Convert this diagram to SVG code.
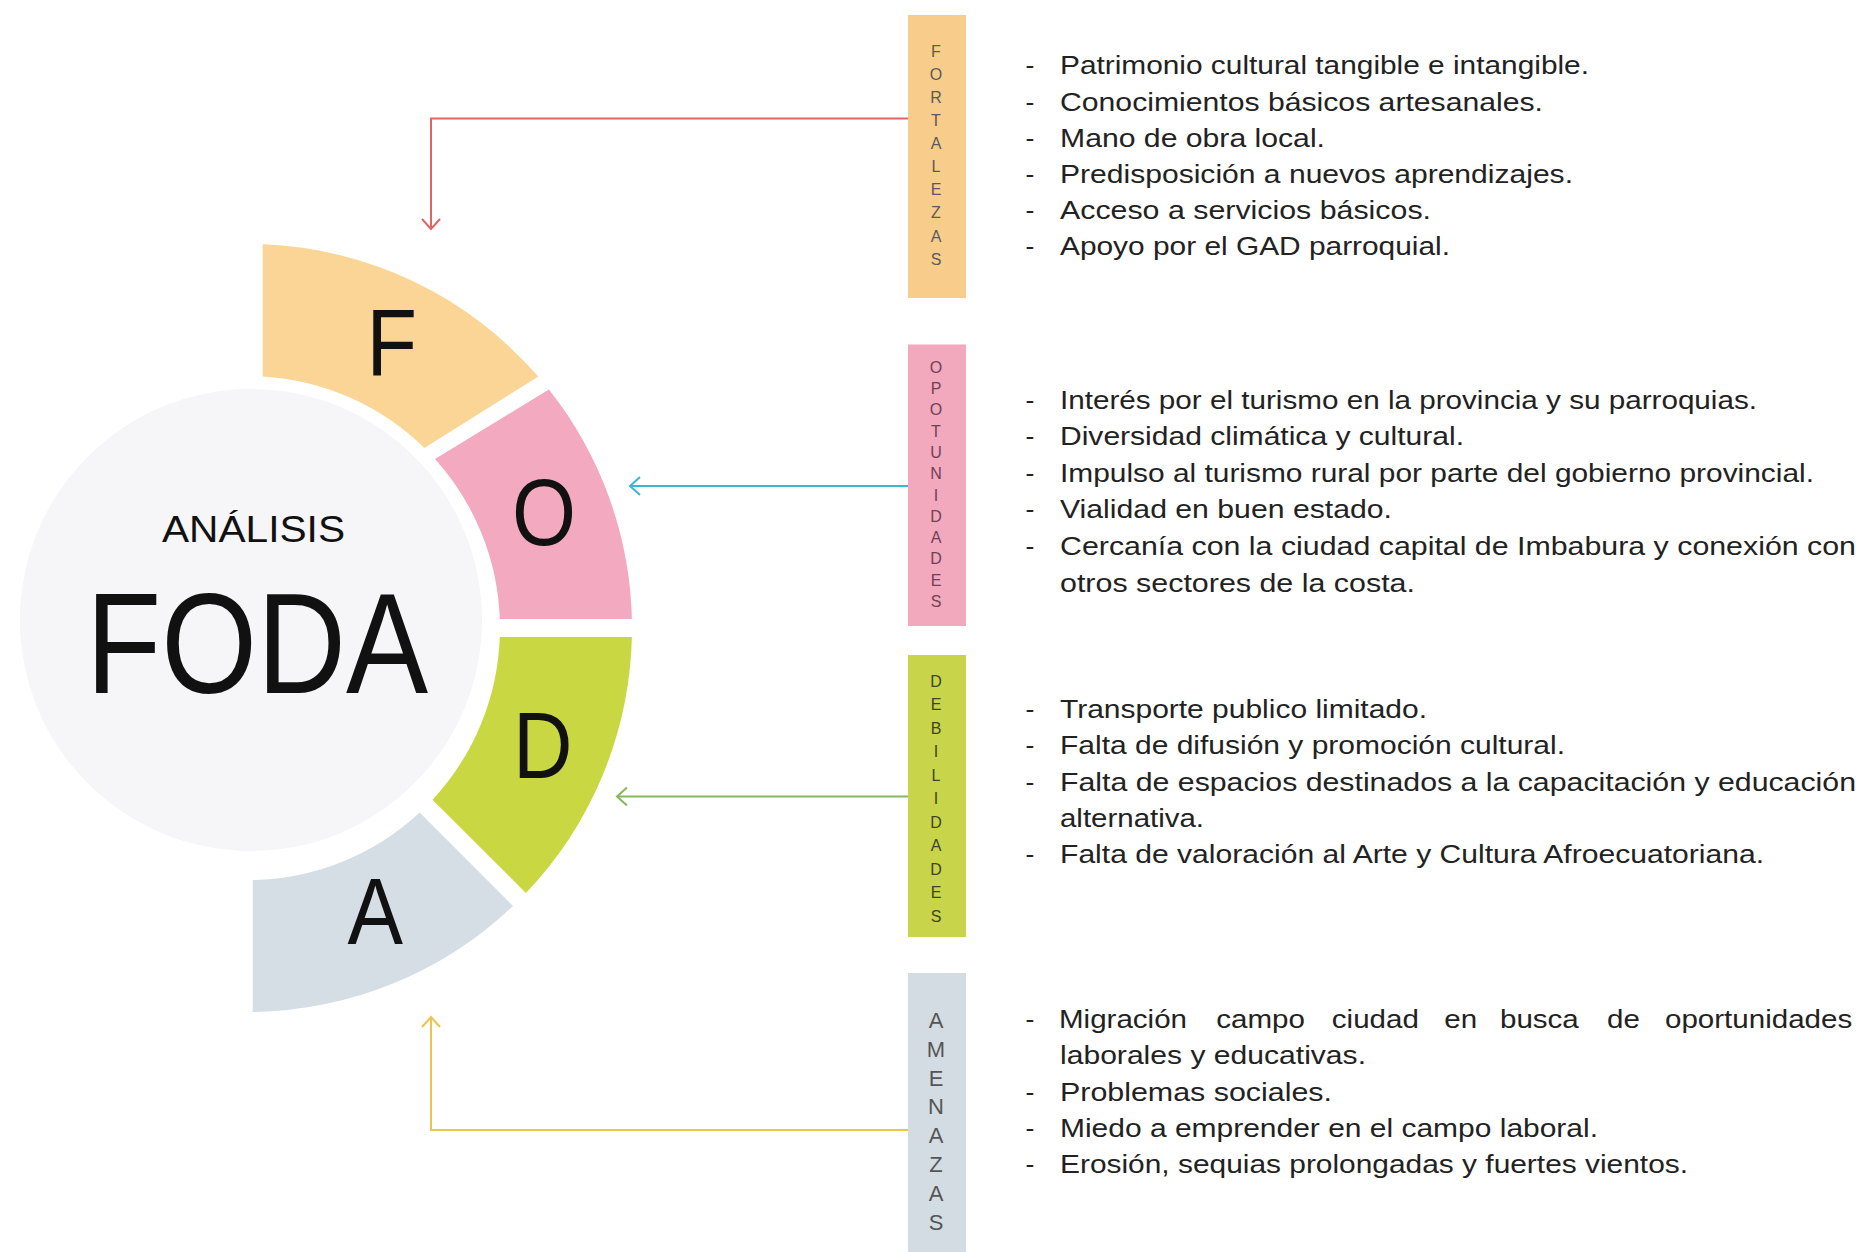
<svg xmlns="http://www.w3.org/2000/svg" width="1861" height="1252" viewBox="0 0 1861 1252">
<defs>
<style>
.seg-letter{font-family:"Liberation Sans",Arial,sans-serif;font-size:95px;fill:#111;}
.bar-letter{font-family:"Liberation Sans",Arial,sans-serif;font-size:16px;text-anchor:middle;}
.item{font-family:"Liberation Sans",Arial,sans-serif;font-size:26.5px;fill:#222;}
.conn{fill:none;stroke-width:2;}
</style>
<marker id="arR" markerWidth="24" markerHeight="24" refX="12" refY="12" orient="auto" markerUnits="userSpaceOnUse"><path d="M2,3 L12,12 L2,21" fill="none" stroke="#e06666" stroke-width="2"/></marker>
<marker id="arC" markerWidth="24" markerHeight="24" refX="12" refY="12" orient="auto" markerUnits="userSpaceOnUse"><path d="M2,3 L12,12 L2,21" fill="none" stroke="#3bb7cc" stroke-width="2"/></marker>
<marker id="arG" markerWidth="24" markerHeight="24" refX="12" refY="12" orient="auto" markerUnits="userSpaceOnUse"><path d="M2,3 L12,12 L2,21" fill="none" stroke="#86b85c" stroke-width="2"/></marker>
<marker id="arY" markerWidth="24" markerHeight="24" refX="12" refY="12" orient="auto" markerUnits="userSpaceOnUse"><path d="M2,3 L12,12 L2,21" fill="none" stroke="#f0c24e" stroke-width="2"/></marker>
</defs>
<rect x="0" y="0" width="1861" height="1252" fill="#ffffff"/>

<g id="center">
<circle cx="251" cy="620" r="231" fill="#f6f5f7"/>
<text x="162" y="542" font-family="Liberation Sans, Arial, sans-serif" font-size="36" fill="#111" textLength="183" lengthAdjust="spacingAndGlyphs">ANÁLISIS</text>
<text x="86" y="693" font-family="Liberation Sans, Arial, sans-serif" font-size="142" fill="#111" textLength="342" lengthAdjust="spacingAndGlyphs">FODA</text>
</g>

<g id="seg-F">
<path d="M262.7,244.3 A384,384 0 0 1 538.3,376.6 L424.3,447.9 A252,252 0 0 0 262.7,376.4 Z" fill="#fad596"/>
<text class="seg-letter" x="366.4" y="375" textLength="50.5" lengthAdjust="spacingAndGlyphs">F</text>
</g>
<g id="seg-O">
<path d="M548.9,389.5 A384,384 0 0 1 631.9,619 L499.8,619 A252,252 0 0 0 435,459.1 Z" fill="#f3a9bf"/>
<text class="seg-letter" x="512" y="545" textLength="64" lengthAdjust="spacingAndGlyphs">O</text>
</g>
<g id="seg-D">
<path d="M631.9,637 A384,384 0 0 1 525.9,893 L432.5,799.7 A252,252 0 0 0 499.8,637 Z" fill="#c9d842"/>
<text class="seg-letter" x="513" y="778" textLength="59.5" lengthAdjust="spacingAndGlyphs">D</text>
</g>
<g id="seg-A">
<path d="M513,905.9 A384,384 0 0 1 252.7,1012 L252.7,880 A252,252 0 0 0 419.7,812.5 Z" fill="#d6dee5"/>
<text class="seg-letter" x="347.5" y="944" textLength="55.5" lengthAdjust="spacingAndGlyphs">A</text>
</g>

<g id="connectors">
<path class="conn" d="M908,118.5 H431 V229" stroke="#e06666" marker-end="url(#arR)"/>
<path class="conn" d="M908,486 H630" stroke="#3bb7cc" marker-end="url(#arC)"/>
<path class="conn" d="M908,796.5 H617" stroke="#86b85c" marker-end="url(#arG)"/>
<path class="conn" d="M908,1130 H431 V1017" stroke="#f0c24e" marker-end="url(#arY)"/>
</g>

<g id="fortalezas">
<rect x="908" y="15" width="58" height="283" fill="#f8cd8b"/>
<text class="bar-letter" fill="#5a5a5a"><tspan x="936" y="56.7">F</tspan><tspan x="936" y="79.8">O</tspan><tspan x="936" y="102.9">R</tspan><tspan x="936" y="126">T</tspan><tspan x="936" y="149.1">A</tspan><tspan x="936" y="172.2">L</tspan><tspan x="936" y="195.3">E</tspan><tspan x="936" y="218.4">Z</tspan><tspan x="936" y="241.5">A</tspan><tspan x="936" y="264.6">S</tspan></text>
<text class="item" x="1025.5" y="74">-</text>
<text class="item" x="1025.5" y="110.5">-</text>
<text class="item" x="1025.5" y="146.5">-</text>
<text class="item" x="1025.5" y="182.5">-</text>
<text class="item" x="1025.5" y="218.5">-</text>
<text class="item" x="1025.5" y="254.5">-</text>
<text class="item" x="1060" y="74" textLength="529" lengthAdjust="spacingAndGlyphs">Patrimonio cultural tangible e intangible.</text>
<text class="item" x="1060" y="110.5" textLength="483" lengthAdjust="spacingAndGlyphs">Conocimientos básicos artesanales.</text>
<text class="item" x="1060" y="146.5" textLength="265" lengthAdjust="spacingAndGlyphs">Mano de obra local.</text>
<text class="item" x="1060" y="182.5" textLength="513" lengthAdjust="spacingAndGlyphs">Predisposición a nuevos aprendizajes.</text>
<text class="item" x="1060" y="218.5" textLength="371" lengthAdjust="spacingAndGlyphs">Acceso a servicios básicos.</text>
<text class="item" x="1060" y="254.5" textLength="390" lengthAdjust="spacingAndGlyphs">Apoyo por el GAD parroquial.</text>
</g>

<g id="oportunidades">
<rect x="908" y="344.5" width="58" height="281.5" fill="#f2a8bd"/>
<text class="bar-letter" fill="#6e4255"><tspan x="936" y="372.7">O</tspan><tspan x="936" y="394">P</tspan><tspan x="936" y="415.3">O</tspan><tspan x="936" y="436.6">T</tspan><tspan x="936" y="457.9">U</tspan><tspan x="936" y="479.2">N</tspan><tspan x="936" y="500.5">I</tspan><tspan x="936" y="521.8">D</tspan><tspan x="936" y="543.1">A</tspan><tspan x="936" y="564.4">D</tspan><tspan x="936" y="585.7">E</tspan><tspan x="936" y="607">S</tspan></text>
<text class="item" x="1025.5" y="408.5">-</text>
<text class="item" x="1025.5" y="445.1">-</text>
<text class="item" x="1025.5" y="481.7">-</text>
<text class="item" x="1025.5" y="518.3">-</text>
<text class="item" x="1025.5" y="554.9">-</text>
<text class="item" x="1060" y="408.5" textLength="697" lengthAdjust="spacingAndGlyphs">Interés por el turismo en la provincia y su parroquias.</text>
<text class="item" x="1060" y="445.1" textLength="404" lengthAdjust="spacingAndGlyphs">Diversidad climática y cultural.</text>
<text class="item" x="1060" y="481.7" textLength="754" lengthAdjust="spacingAndGlyphs">Impulso al turismo rural por parte del gobierno provincial.</text>
<text class="item" x="1060" y="518.3" textLength="332" lengthAdjust="spacingAndGlyphs">Vialidad en buen estado.</text>
<text class="item" x="1060" y="554.9" textLength="796" lengthAdjust="spacingAndGlyphs">Cercanía con la ciudad capital de Imbabura y conexión con</text>
<text class="item" x="1060" y="591.5" textLength="355" lengthAdjust="spacingAndGlyphs">otros sectores de la costa.</text>
</g>

<g id="debilidades">
<rect x="908" y="655" width="58" height="282" fill="#c8d44a"/>
<text class="bar-letter" fill="#3f4422"><tspan x="936" y="686.7">D</tspan><tspan x="936" y="710.2">E</tspan><tspan x="936" y="733.7">B</tspan><tspan x="936" y="757.2">I</tspan><tspan x="936" y="780.7">L</tspan><tspan x="936" y="804.2">I</tspan><tspan x="936" y="827.7">D</tspan><tspan x="936" y="851.2">A</tspan><tspan x="936" y="874.7">D</tspan><tspan x="936" y="898.2">E</tspan><tspan x="936" y="921.7">S</tspan></text>
<text class="item" x="1025.5" y="718">-</text>
<text class="item" x="1025.5" y="754.3">-</text>
<text class="item" x="1025.5" y="790.6">-</text>
<text class="item" x="1025.5" y="863.2">-</text>
<text class="item" x="1060" y="718" textLength="367" lengthAdjust="spacingAndGlyphs">Transporte publico limitado.</text>
<text class="item" x="1060" y="754.3" textLength="505" lengthAdjust="spacingAndGlyphs">Falta de difusión y promoción cultural.</text>
<text class="item" x="1060" y="790.6" textLength="796" lengthAdjust="spacingAndGlyphs">Falta de espacios destinados a la capacitación y educación</text>
<text class="item" x="1060" y="826.9" textLength="144" lengthAdjust="spacingAndGlyphs">alternativa.</text>
<text class="item" x="1060" y="863.2" textLength="704" lengthAdjust="spacingAndGlyphs">Falta de valoración al Arte y Cultura Afroecuatoriana.</text>
</g>

<g id="amenazas">
<rect x="908" y="973" width="58" height="279" fill="#d4dce3"/>
<text class="bar-letter" fill="#555" style="font-size:22px"><tspan x="936" y="1028">A</tspan><tspan x="936" y="1056.8">M</tspan><tspan x="936" y="1085.6">E</tspan><tspan x="936" y="1114.4">N</tspan><tspan x="936" y="1143.2">A</tspan><tspan x="936" y="1172">Z</tspan><tspan x="936" y="1200.8">A</tspan><tspan x="936" y="1229.6">S</tspan></text>
<text class="item" x="1025.5" y="1028">-</text>
<text class="item" x="1025.5" y="1100.6">-</text>
<text class="item" x="1025.5" y="1136.9">-</text>
<text class="item" x="1025.5" y="1173.2">-</text>
<text class="item" y="1028" transform="matrix(1.115 0 0 1 -122 0)"><tspan x="1059.2">Migración</tspan><tspan x="1200.3">campo</tspan><tspan x="1303.9">ciudad</tspan><tspan x="1404.8">en</tspan><tspan x="1454.7">busca</tspan><tspan x="1550.7">de</tspan><tspan x="1602.7">oportunidades</tspan></text>
<text class="item" x="1060" y="1064.3" textLength="306" lengthAdjust="spacingAndGlyphs">laborales y educativas.</text>
<text class="item" x="1060" y="1100.6" textLength="272" lengthAdjust="spacingAndGlyphs">Problemas sociales.</text>
<text class="item" x="1060" y="1136.9" textLength="538" lengthAdjust="spacingAndGlyphs">Miedo a emprender en el campo laboral.</text>
<text class="item" x="1060" y="1173.2" textLength="628" lengthAdjust="spacingAndGlyphs">Erosión, sequias prolongadas y fuertes vientos.</text>
</g>
</svg>
